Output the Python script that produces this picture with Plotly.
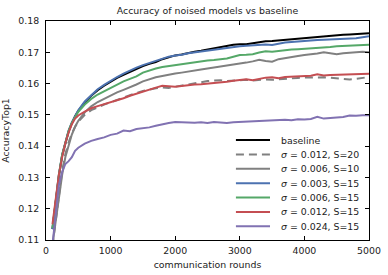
import plotly.graph_objects as go

rounds = [100, 150, 200, 250, 300, 350, 400, 450, 500] + list(range(600, 5001, 100))

baseline = [0.1135, 0.1220, 0.1305, 0.1370, 0.1413, 0.1447, 0.1473, 0.1496, 0.1513,
            0.1540, 0.1561, 0.1579, 0.1593, 0.1606, 0.1618, 0.1628, 0.1638, 0.1647, 0.1656,
            0.1663, 0.1669, 0.1678, 0.1684, 0.1690, 0.1693, 0.1698, 0.1702, 0.1705, 0.1709,
            0.1713, 0.1716, 0.1721, 0.1724, 0.1726, 0.1726, 0.1729, 0.1733, 0.1735, 0.1736,
            0.1738, 0.1740, 0.1741, 0.1744, 0.1745, 0.1747, 0.1749, 0.1752, 0.1753, 0.1754,
            0.1756, 0.1757, 0.1758, 0.1760, 0.1761]

s012_S20 = [0.1080, 0.1165, 0.1250, 0.1320, 0.1375, 0.1412, 0.1440, 0.1462, 0.1478,
            0.1500, 0.1515, 0.1525, 0.1533, 0.1540, 0.1548, 0.1556, 0.1563, 0.1570, 0.1576,
            0.1581, 0.1585, 0.1588, 0.1586, 0.1590, 0.1594, 0.1597, 0.1601, 0.1605, 0.1608,
            0.1610, 0.1611, 0.1608, 0.1610, 0.1611, 0.1612, 0.1610, 0.1612, 0.1613, 0.1612,
            0.1614, 0.1615, 0.1616, 0.1618, 0.1619, 0.1620, 0.1621, 0.1620, 0.1619, 0.1617,
            0.1614, 0.1613, 0.1615, 0.1619, 0.1621]

s006_S10 = [0.1085, 0.1160, 0.1245, 0.1308, 0.1365, 0.1405, 0.1437, 0.1462, 0.1481,
            0.1508, 0.1527, 0.1541, 0.1552, 0.1562, 0.1572, 0.1580, 0.1588, 0.1597, 0.1607,
            0.1614, 0.1620, 0.1624, 0.1629, 0.1632, 0.1635, 0.1639, 0.1643, 0.1645, 0.1648,
            0.1651, 0.1653, 0.1656, 0.1660, 0.1664, 0.1667, 0.1671, 0.1676, 0.1672, 0.1670,
            0.1678, 0.1682, 0.1685, 0.1688, 0.1691, 0.1693, 0.1696, 0.1700, 0.1697, 0.1694,
            0.1697, 0.1699, 0.1701, 0.1702, 0.1700]

s003_S15 = [0.1135, 0.1222, 0.1308, 0.1372, 0.1416, 0.1450, 0.1476, 0.1498, 0.1515,
            0.1543, 0.1564, 0.1582, 0.1596, 0.1609, 0.1621, 0.1632, 0.1642, 0.1651, 0.1659,
            0.1666, 0.1672, 0.1680, 0.1686, 0.1690, 0.1692, 0.1697, 0.1700, 0.1702, 0.1705,
            0.1708, 0.1710, 0.1714, 0.1716, 0.1719, 0.1721, 0.1722, 0.1724, 0.1725, 0.1723,
            0.1728, 0.1731, 0.1733, 0.1735, 0.1736, 0.1737, 0.1739, 0.1740, 0.1741, 0.1742,
            0.1742, 0.1743, 0.1745, 0.1748, 0.1751]

s006_S15 = [0.1138, 0.1225, 0.1310, 0.1373, 0.1416, 0.1449, 0.1474, 0.1494, 0.1510,
            0.1533, 0.1551, 0.1565, 0.1576, 0.1587, 0.1597, 0.1607, 0.1615, 0.1623, 0.1635,
            0.1642, 0.1648, 0.1653, 0.1656, 0.1659, 0.1662, 0.1666, 0.1669, 0.1671, 0.1674,
            0.1675, 0.1677, 0.1680, 0.1686, 0.1691, 0.1692, 0.1694, 0.1699, 0.1703, 0.1702,
            0.1705, 0.1708, 0.1709, 0.1710, 0.1711, 0.1712, 0.1714, 0.1716, 0.1717, 0.1719,
            0.1720, 0.1719, 0.1721, 0.1723, 0.1724]

s012_S15 = [0.1150, 0.1240, 0.1310, 0.1365, 0.1410, 0.1443, 0.1470, 0.1488, 0.1498,
            0.1510, 0.1521, 0.1528, 0.1534, 0.1541, 0.1547, 0.1553, 0.1561, 0.1568, 0.1575,
            0.1582, 0.1587, 0.1593, 0.1591, 0.1590, 0.1592, 0.1595, 0.1597, 0.1598, 0.1600,
            0.1601, 0.1602, 0.1606, 0.1609, 0.1612, 0.1614, 0.1611, 0.1615, 0.1619, 0.1620,
            0.1617, 0.1621, 0.1622, 0.1624, 0.1623, 0.1625, 0.1630, 0.1626, 0.1627, 0.1628,
            0.1627, 0.1628, 0.1629, 0.1630, 0.1631]

s024_S15 = [0.1085, 0.1190, 0.1275, 0.1318, 0.1343, 0.1352, 0.1365, 0.1385, 0.1395,
            0.1408, 0.1417, 0.1423, 0.1428, 0.1436, 0.1440, 0.1450, 0.1448, 0.1455, 0.1457,
            0.1460, 0.1465, 0.1470, 0.1474, 0.1477, 0.1476, 0.1477, 0.1475, 0.1476, 0.1474,
            0.1477, 0.1476, 0.1474, 0.1476, 0.1477, 0.1479, 0.1478, 0.1480, 0.1482, 0.1481,
            0.1483, 0.1484, 0.1483, 0.1486, 0.1485, 0.1487, 0.1494, 0.1488, 0.1490, 0.1491,
            0.1493, 0.1498, 0.1497, 0.1499, 0.1499]

legend_labels = ["baseline",
                 "<i>σ</i> = 0.012, S=20",
                 "<i>σ</i> = 0.006, S=10",
                 "<i>σ</i> = 0.003, S=15",
                 "<i>σ</i> = 0.006, S=15",
                 "<i>σ</i> = 0.012, S=15",
                 "<i>σ</i> = 0.024, S=15"]
values = [baseline, s012_S20, s006_S10, s003_S15, s006_S15, s012_S15, s024_S15]
colors = ["#000000", "#808080", "#808080", "#4C72B0", "#55A868", "#C44E52", "#8172B2"]
dashes = ["solid", "8px,5px", "solid", "solid", "solid", "solid", "solid"]

FONT = "DejaVu Sans"
FS = 9.4
TXT = "#222222"

fig = go.Figure()
for name, ys, color, dash in zip(legend_labels, values, colors, dashes):
    fig.add_trace(go.Scatter(x=rounds, y=ys, mode="lines", name=name, showlegend=False,
                             line=dict(color=color, width=2, dash=dash)))

# hand-built legend (matplotlib-like compact spacing)
leg_top = 0.4566
leg_step = 0.0657
shapes = []
annotations = []
for i, (name, color, dash) in enumerate(zip(legend_labels, colors, dashes)):
    yy = leg_top - i * leg_step
    shapes.append(dict(type="line", xref="paper", yref="paper",
                       x0=0.588, x1=0.6935, y0=yy, y1=yy,
                       line=dict(color=color, width=2, dash=dash)))
    annotations.append(dict(xref="paper", yref="paper", x=0.721, y=yy,
                            xanchor="left", yanchor="middle", showarrow=False,
                            text=name, font=dict(family=FONT, size=FS, color=TXT)))

fig.update_layout(
    width=388, height=275,
    margin=dict(l=46, r=19, t=21, b=35, autoexpand=False),
    paper_bgcolor="white", plot_bgcolor="white",
    font=dict(family=FONT, size=FS, color=TXT),
    title=dict(text="Accuracy of noised models vs baseline", x=0.5, xref="paper",
               xanchor="center", y=1 - 11 / 275, yref="container",
               yanchor="middle", automargin=False,
               font=dict(family=FONT, size=FS, color=TXT)),
    shapes=shapes,
    annotations=annotations,
    showlegend=False,
)
fig.update_xaxes(range=[0, 5000], tickvals=[0, 1000, 2000, 3000, 4000, 5000],
                 showgrid=False, zeroline=False, showline=True, linecolor="black",
                 linewidth=1, mirror="ticks", ticks="inside", ticklen=4,
                 tickcolor="black", tickfont=dict(family=FONT, size=FS, color=TXT),
                 ticklabelstandoff=2, automargin=False,
                 title=dict(text="communication rounds", standoff=6,
                            font=dict(family=FONT, size=FS, color=TXT)))
fig.update_yaxes(range=[0.11, 0.18], tickvals=[0.11, 0.12, 0.13, 0.14, 0.15, 0.16, 0.17, 0.18],
                 tickformat=".2f",
                 showgrid=False, zeroline=False, showline=True, linecolor="black",
                 linewidth=1, mirror="ticks", ticks="inside", ticklen=4,
                 tickcolor="black", tickfont=dict(family=FONT, size=FS, color=TXT),
                 ticklabelstandoff=4, automargin=False,
                 title=dict(text="AccuracyTop1", standoff=6,
                            font=dict(family=FONT, size=FS, color=TXT)))

fig.write_html("out.html", config={"displayModeBar": False},
               post_script="document.body.style.margin='0';")
